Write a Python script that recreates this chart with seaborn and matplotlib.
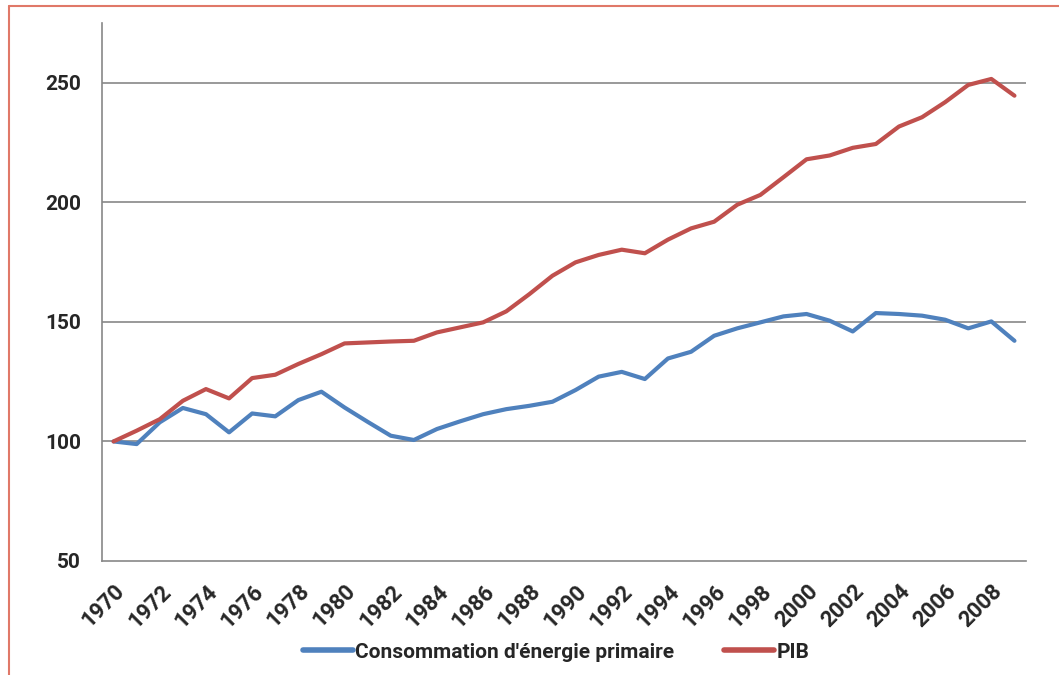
import numpy as np
import pandas as pd
import matplotlib
matplotlib.use("Agg")
import matplotlib.pyplot as plt
from matplotlib.lines import Line2D
import seaborn as sns

# -------------------------------
# DATA (indice base 100 en 1970)
# -------------------------------
years = list(range(1970, 2010))
energie = [100.0, 98.9, 108.0, 114.0, 111.4, 103.8, 111.7, 110.5, 117.3, 120.8,
           114.2, 108.2, 102.4, 100.6, 105.2, 108.4, 111.4, 113.5, 114.9, 116.6,
           121.5, 127.1, 129.1, 126.1, 134.7, 137.5, 144.2, 147.3, 149.8, 152.3,
           153.3, 150.5, 146.0, 153.7, 153.3, 152.6, 150.9, 147.3, 150.2, 142.1]
pib = [100.0, 104.5, 109.3, 117.0, 121.9, 118.0, 126.5, 127.9, 132.4, 136.5,
       141.0, 141.4, 141.8, 142.1, 145.6, 147.7, 149.8, 154.4, 161.6, 169.3,
       174.9, 178.0, 180.2, 178.7, 184.4, 189.1, 191.9, 199.0, 203.1, 210.5,
       218.0, 219.6, 222.8, 224.4, 231.7, 235.6, 241.9, 249.1, 251.6, 244.6]
series_names = ["Consommation d'énergie primaire", "PIB"]
yticks = [50, 100, 150, 200, 250]

df = pd.DataFrame({
    "idx": list(range(len(years))) * 2,
    "valeur": energie + pib,
    "serie": [series_names[0]] * len(years) + [series_names[1]] * len(years),
})

# -------------------------------
# PLOT
# -------------------------------
sns.set_style("white")
plt.rcParams["font.family"] = ["Roboto", "DejaVu Sans"]
plt.rcParams["font.weight"] = "bold"

fig = plt.figure(figsize=(10.59, 6.75), dpi=100)
ax = fig.add_axes([102 / 1059, 1 - 561 / 675, 924 / 1059, 538 / 675])

grid_col = "#878787"
for y in yticks[1:]:
    ax.axhline(y, color=grid_col, lw=1.2, zorder=0)

sns.lineplot(data=df, x="idx", y="valeur", hue="serie",
             palette=["#4F81BD", "#C0504D"], linewidth=3.0, ax=ax, legend=False)

ax.set_xlim(-0.5, len(years) - 0.5)
ax.set_ylim(50, 275)
ax.set_yticks(yticks)
ax.set_yticklabels([str(v) for v in yticks], fontsize=15, fontweight="bold")

ax.set_xticks(range(0, len(years), 2))
ax.set_xticklabels([str(y) for y in years[::2]], rotation=45, ha="right",
                   rotation_mode="anchor", fontsize=16, fontweight="bold")
ax.set_xticks(np.arange(-0.5, len(years), 1.0), minor=True)
ax.tick_params(axis="x", which="major", length=0, pad=14)
ax.tick_params(axis="x", which="minor", length=6, color=grid_col, width=1.2, direction="out")
ax.tick_params(axis="y", length=6, color=grid_col, width=1.2, direction="out", pad=9)

ax.set_xlabel("")
ax.set_ylabel("")
for s in ["top", "right"]:
    ax.spines[s].set_visible(False)
for s in ["left", "bottom"]:
    ax.spines[s].set_color(grid_col)
    ax.spines[s].set_linewidth(1.2)

handles = [Line2D([0], [0], color="#4F81BD", lw=4),
           Line2D([0], [0], color="#C0504D", lw=4)]
fig.legend(handles, series_names, loc="center", bbox_to_anchor=(0.525, 1 - 652 / 675),
           ncol=2, frameon=False, handlelength=2.4, handletextpad=0.1, columnspacing=2.4,
           prop={"size": 15, "weight": "bold"})

# red frame (top and left edges visible)
border = "#E07868"
fig.add_artist(Line2D([9 / 1059, 9 / 1059], [0, 1 - 6 / 675], color=border, lw=1.5,
                      transform=fig.transFigure))
fig.add_artist(Line2D([9 / 1059, 1], [1 - 6 / 675, 1 - 6 / 675], color=border, lw=1.5,
                      transform=fig.transFigure))

fig.savefig("out.png", dpi=100)
